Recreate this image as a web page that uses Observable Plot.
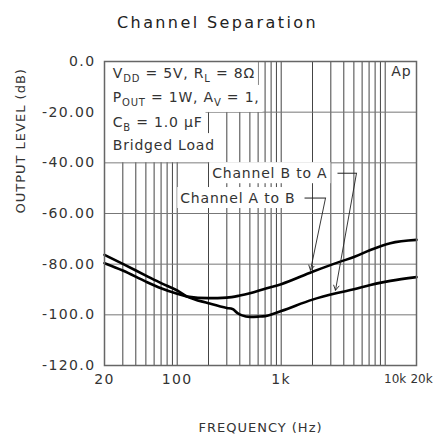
<!DOCTYPE html>
<html><head><meta charset="utf-8">
<script src="https://cdn.jsdelivr.net/npm/d3@7"></script>
<script src="https://cdn.jsdelivr.net/npm/@observablehq/plot@0.6"></script>
<style>
html,body{margin:0;padding:0;background:#fff;}
svg text{font-family:"DejaVu Sans",sans-serif;}
</style></head><body>
<div id="chart"></div>
<script>
// ---- text ----
const titleText = "Channel Separation";
const xLabel = "FREQUENCY (Hz)";
const yLabel = "OUTPUT LEVEL (dB)";

// ---- ticks ----
const xTickValues = [20, 100, 1000];
const xTickLabels = ["20", "100", "1k"];
const xTick10k = [10000];
const xTick10kLabel = ["10k"];
const xTick20k = [20000];
const xTick20kLabel = ["20k"];
const yTickValues = [0, -20, -40, -60, -80, -100, -120];
const yTickLabels = ["0.0", "-20.00", "-40.00", "-60.00", "-80.00", "-100.0", "-120.0"];

// ---- grid ----
const gridX = [30, 40, 50, 60, 70, 80, 90, 100, 200, 300, 400, 500, 600, 700, 800, 900, 1000,
               2000, 3000, 4000, 5000, 6000, 7000, 8000, 9000, 10000];
const gridY = [-20, -40, -60, -80, -100];

// ---- series ----
const freqAtoB = [20, 30, 50, 70, 100, 125, 200, 300, 400, 500, 700, 1000, 2000, 3700, 5000, 7200, 11200, 20000];
const dbAtoB   = [-79.6, -82.5, -86.9, -89.5, -91.7, -92.8, -93.4, -93.2, -92.4, -91.5, -89.7, -87.9, -83.0, -79.0, -77.2, -74.4, -71.7, -70.4];
const freqBtoA = [20, 30, 50, 70, 100, 125, 200, 300, 340, 380, 420, 500, 600, 700, 1000, 2000, 3450, 5000, 7200, 11200, 20000];
const dbBtoA   = [-76.3, -79.9, -84.5, -87.5, -90.4, -92.8, -95.4, -97.3, -97.7, -99.3, -100.2, -100.8, -100.7, -100.5, -98.5, -94.0, -91.4, -89.9, -88.2, -86.6, -85.1];

// ---- annotations ----
const condText = ["V_{DD} = 5V, R_{L} = 8Ω", "P_{OUT} = 1W, A_{V} = 1,", "C_{B} = 1.0 μF", "Bridged Load"];
const condHz = [24, 24, 24, 24];
const condDb = [-4.9, -14.2, -24.1, -33.2];
const condPadBottom = [4, 4, 4, 9];
const chanText = ["Channel B to A", "Channel A to B"];
const chanHz = [217, 107];
const chanDb = [-44.1, -53.9];
const leaderHz1 = [3478, 1676];
const leaderHz2 = [5298, 2668];
const arrowTipHz = [3328, 1914];
const arrowTipDb = [-90.3, -82.4];
const apText = ["Ap"];
const apHz = [14300];
const apDb = [-3.9];

const seriesA = freqAtoB.map((f, i) => ({f, db: dbAtoB[i]}));
const seriesB = freqBtoA.map((f, i) => ({f, db: dbBtoA[i]}));
const idx2 = [0, 1];

const tickFont = {fontSize: 14, fill: "#333", lineAnchor: "middle"};
const hiFont = {fontSize: 12, fill: "#333", lineAnchor: "middle"};

const plot = Plot.plot({
  width: 434,
  height: 435,
  marginLeft: 104,
  marginRight: 18,
  marginTop: 61,
  marginBottom: 70,
  x: {type: "log", domain: [20, 20000], axis: null},
  y: {domain: [-120, 0], axis: null},
  marks: [
    Plot.ruleX(gridX, {stroke: "#444", strokeWidth: 1}),
    Plot.ruleY(gridY, {stroke: "#777", strokeWidth: 1}),
    // y tick labels
    Plot.text(yTickValues, {y: d => d, text: (d, i) => yTickLabels[i], frameAnchor: "left", dx: -9, textAnchor: "end", ...tickFont}),
    // x tick labels
    Plot.text(xTickValues, {x: d => d, text: (d, i) => xTickLabels[i], frameAnchor: "bottom", dy: 14, ...tickFont}),
    Plot.text(xTick10k, {x: d => d, text: (d, i) => xTick10kLabel[i], frameAnchor: "bottom", dy: 14, dx: 10, ...hiFont}),
    Plot.text(xTick20k, {x: d => d, text: (d, i) => xTick20kLabel[i], frameAnchor: "bottom", dy: 14, dx: 5, ...hiFont}),
    // axis titles
    Plot.text([xLabel], {text: d => d, frameAnchor: "bottom", dy: 62, lineAnchor: "middle", fontSize: 13, fill: "#333"}),
    Plot.text([yLabel], {text: d => d, frameAnchor: "left", dx: -84, rotate: -90, fontSize: 13, fill: "#333"}),
    // title
    Plot.text([titleText], {text: d => d, frameAnchor: "top-left", dx: 113, dy: -39, lineAnchor: "middle", textAnchor: "middle", fontSize: 16, fill: "#222"}),
    // annotations
    Plot.text(condText, {x: (d, i) => condHz[i], y: (d, i) => condDb[i], text: d => d, textAnchor: "start", fontSize: 14, fill: "#333"}),
    Plot.text(chanText, {x: (d, i) => chanHz[i], y: (d, i) => chanDb[i], text: d => d, textAnchor: "start", fontSize: 14, fill: "#333"}),
    Plot.text(apText, {x: (d, i) => apHz[i], y: (d, i) => apDb[i], text: d => d, fontSize: 14, fill: "#333"}),
    // curves
    Plot.line(seriesA, {x: "f", y: "db", stroke: "#000", strokeWidth: 2.6, curve: "monotone-x"}),
    Plot.line(seriesB, {x: "f", y: "db", stroke: "#000", strokeWidth: 2.6, curve: "monotone-x"}),
    // leaders
    Plot.link(idx2, {x1: i => leaderHz1[i], x2: i => leaderHz2[i], y1: i => chanDb[i], y2: i => chanDb[i], stroke: "#222", strokeWidth: 1}),
    Plot.arrow(idx2, {x1: i => leaderHz2[i], y1: i => chanDb[i], x2: i => arrowTipHz[i], y2: i => arrowTipDb[i], stroke: "#222", strokeWidth: 0.9, headLength: 9}),
    Plot.frame({stroke: "#666", strokeWidth: 1.5})
  ]
});

document.getElementById("chart").append(plot);

const NS = "http://www.w3.org/2000/svg";
const texts = Array.from(plot.querySelectorAll("text"));
// subscripts
texts.forEach(t => {
  const s = t.textContent;
  if (!s.includes("_{")) return;
  t.textContent = "";
  let prevSub = false;
  s.split(/(_\{[^}]*\})/).forEach(p => {
    if (!p) return;
    const ts = document.createElementNS(NS, "tspan");
    if (p.startsWith("_{")) {
      ts.textContent = p.slice(2, -1);
      ts.setAttribute("font-size", "10");
      ts.setAttribute("dy", "4");
      prevSub = true;
    } else {
      ts.textContent = p;
      if (prevSub) ts.setAttribute("dy", "-4");
      prevSub = false;
    }
    t.appendChild(ts);
  });
});
// letter spacing
const setLS = (t, v) => t.style.letterSpacing = v + "px";
texts.forEach(t => {
  const s = t.textContent;
  if (s === titleText) setLS(t, 2.4);
  else if (s === xLabel || s === yLabel) setLS(t, 1);
  else if (s === "10k" || s === "20k") setLS(t, 0);
  else if (yTickLabels.includes(s) || xTickLabels.includes(s)) setLS(t, 1.4);
  else setLS(t, 0.8);
});
// white boxes behind annotation text
function addBox(t, padL, padR, padT, padB) {
  const b = t.getBBox();
  const r = document.createElementNS(NS, "rect");
  r.setAttribute("x", b.x - padL);
  r.setAttribute("y", b.y - padT);
  r.setAttribute("width", b.width + padL + padR);
  r.setAttribute("height", b.height + padT + padB);
  r.setAttribute("fill", "#fff");
  r.setAttribute("stroke", "none");
  const tr = t.getAttribute("transform");
  if (tr) r.setAttribute("transform", tr);
  t.parentNode.insertBefore(r, t.parentNode.firstChild);
}
const condPlain = condText.map(s => s.replace(/_\{([^}]*)\}/g, "$1"));
texts.forEach(t => {
  const s = t.textContent;
  const ci = condPlain.indexOf(s);
  if (ci >= 0) addBox(t, 9, 3, 4, condPadBottom[ci]);
  if (chanText.includes(s)) addBox(t, 3, 3, 2.5, 2.5);
});
</script>
</body></html>
